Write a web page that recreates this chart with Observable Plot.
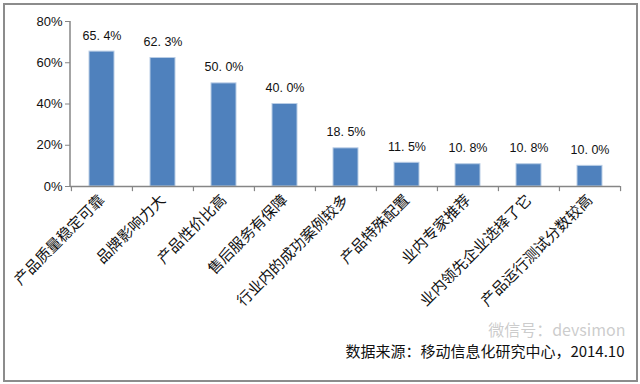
<!DOCTYPE html>
<html><head><meta charset="utf-8">
<script src="https://cdn.jsdelivr.net/npm/d3@7"></script>
<script src="https://cdn.jsdelivr.net/npm/@observablehq/plot@0.6"></script>
<style>
body{margin:0;background:#fff;}
#wrap{position:relative;width:640px;height:384px;}
#frame{position:absolute;left:3px;top:3px;width:631px;height:375px;border:2px solid #8c8c8c;}
#chart{position:absolute;left:0;top:0;}
</style></head>
<body><div id="wrap"><div id="frame"></div><div id="chart"></div></div>
<script>
const categories = ["产品质量稳定可靠","品牌影响力大","产品性价比高","售后服务有保障","行业内的成功案例较多","产品特殊配置","业内专家推荐","业内领先企业选择了它","产品运行测试分数较高"];
const values = [65.4, 62.3, 50.0, 40.0, 18.5, 11.5, 10.8, 10.8, 10.0];
const yTicks = [0, 20, 40, 60, 80];
const source = "数据来源：移动信息化研究中心，2014.10";
const watermark = "微信号：devsimon";

const data = categories.map((c, i) => ({category: c, value: values[i]}));
const W = 640, H = 384, mL = 70, mR = 20, mT = 21, mB = 198;
const step = (W - mL - mR) / categories.length;
const axisColor = "#868686";
const font = "'Liberation Sans', Arial, sans-serif";
const cjk = "'Noto Sans CJK SC', sans-serif";

const chart = Plot.plot({
  width: W, height: H,
  marginLeft: mL, marginRight: mR, marginTop: mT, marginBottom: mB,
  style: {fontFamily: font, background: "transparent", overflow: "visible"},
  x: {domain: categories, padding: 0},
  y: {domain: [0, 80]},
  marks: [
    Plot.barY(data, {x: "category", y: "value", fill: "#4f81bd", stroke: "#b9cde5", strokeWidth: 1, insetLeft: 18, insetRight: 18}),
    Plot.text(data, {x: "category", y: "value", text: d => d.value.toFixed(1).replace(".", ". ") + "%", dy: -16, fontSize: 12.5, fill: "#111", fontFamily: font}),
    Plot.ruleY([0], {stroke: axisColor, strokeWidth: 1.5}),
    Plot.axisY({ticks: yTicks, tickFormat: d => d + "%", tickSize: 5, tickPadding: 3, fontSize: 13, stroke: axisColor, color: "#111", label: null}),
    Plot.ruleX(categories, {x: d => d, y1: 0, y2: -2.5, dx: -step / 2, stroke: axisColor, strokeWidth: 1.2}),
    Plot.ruleX(categories.slice(-1), {x: d => d, y1: 0, y2: -2.5, dx: step / 2, stroke: axisColor, strokeWidth: 1.2}),
    Plot.axisX({tickSize: 0, tickRotate: -45, tickPadding: 11, fontSize: 15, fontFamily: cjk, color: "#111", label: null}),
    Plot.text([watermark], {frameAnchor: "bottom-right", dy: 149, dx: 5, fontSize: 16, fill: "#999", fillOpacity: 0.5, fontFamily: cjk, textAnchor: "end"}),
    Plot.text([source], {frameAnchor: "bottom-right", dy: 170, dx: 4, fontSize: 15, fill: "#111", fontFamily: cjk, textAnchor: "end"})
  ]
});
const svg = d3.select(chart);
svg.append("line").attr("x1", mL).attr("x2", mL).attr("y1", mT).attr("y2", H - mB)
  .attr("stroke", axisColor).attr("stroke-width", 1.5);
document.getElementById("chart").appendChild(chart);
</script></body></html>
